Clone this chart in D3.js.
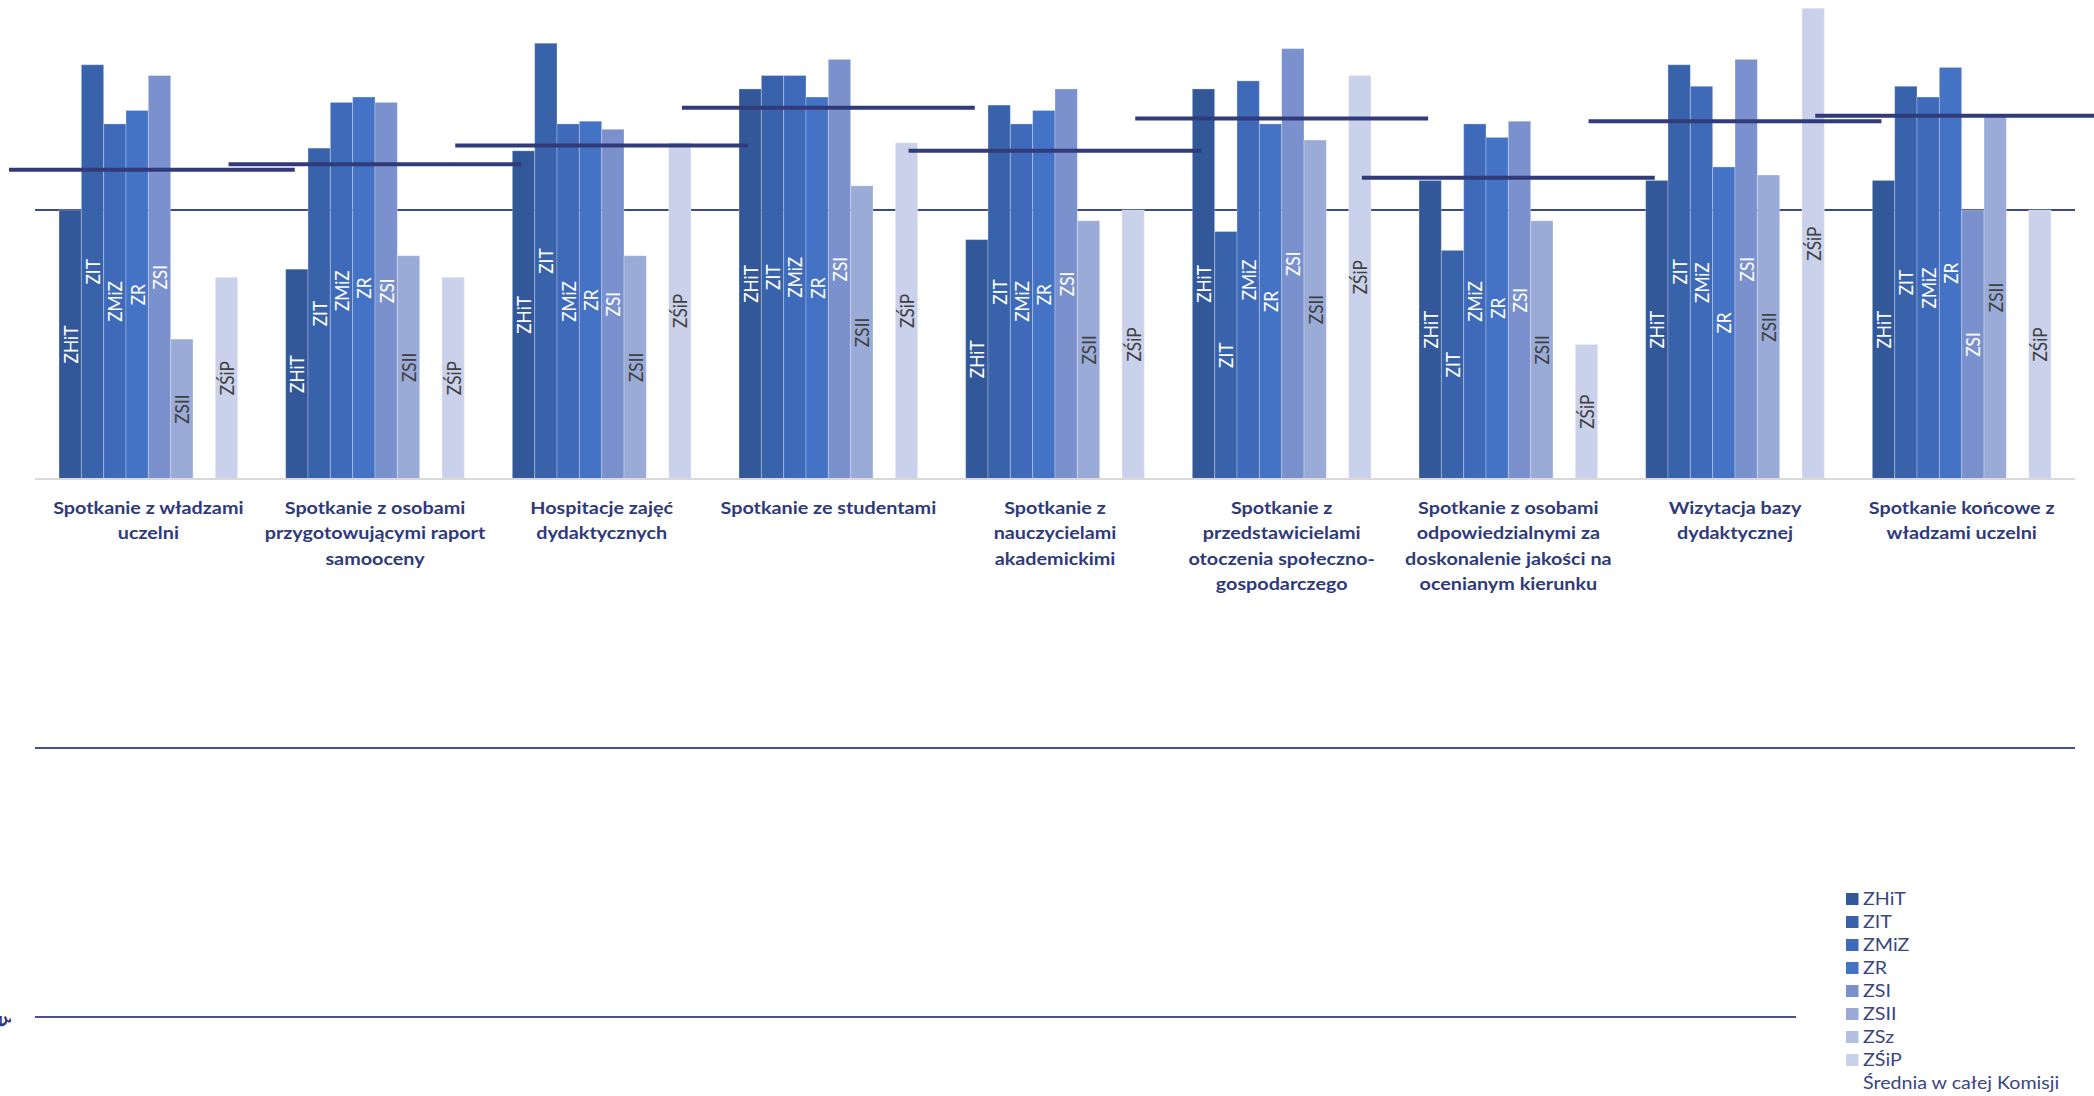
<!DOCTYPE html>
<html><head><meta charset="utf-8">
<script src="https://cdn.jsdelivr.net/npm/d3@7"></script>
<style>html,body{margin:0;padding:0;background:#fff;overflow:hidden}</style>
</head><body>
<svg id="chart" width="2094" height="1096"></svg>
<script>
// ---------- DATA ----------
const categories = [
  "Spotkanie z władzami uczelni",
  "Spotkanie z osobami przygotowującymi raport samooceny",
  "Hospitacje zajęć dydaktycznych",
  "Spotkanie ze studentami",
  "Spotkanie z nauczycielami akademickimi",
  "Spotkanie z przedstawicielami otoczenia społeczno-gospodarczego",
  "Spotkanie z osobami odpowiedzialnymi za doskonalenie jakości na ocenianym kierunku",
  "Wizytacja bazy dydaktycznej",
  "Spotkanie końcowe z władzami uczelni"
];
const categoryTickLines = [
  ["Spotkanie z władzami", "uczelni"],
  ["Spotkanie z osobami", "przygotowującymi raport", "samooceny"],
  ["Hospitacje zajęć", "dydaktycznych"],
  ["Spotkanie ze studentami"],
  ["Spotkanie z", "nauczycielami", "akademickimi"],
  ["Spotkanie z", "przedstawicielami", "otoczenia społeczno-", "gospodarczego"],
  ["Spotkanie z osobami", "odpowiedzialnymi za", "doskonalenie jakości na", "ocenianym kierunku"],
  ["Wizytacja bazy", "dydaktycznej"],
  ["Spotkanie końcowe z", "władzami uczelni"]
];
const seriesNames = ["ZHiT", "ZIT", "ZMiZ", "ZR", "ZSI", "ZSII", "ZSz", "ZŚiP"];
const ZHiT = [4.00, 3.78, 4.22, 4.45, 3.89, 4.45, 4.11, 4.11, 4.11];
const ZIT  = [4.54, 4.23, 4.62, 4.50, 4.39, 3.92, 3.85, 4.54, 4.46];
const ZMiZ = [4.32, 4.40, 4.32, 4.50, 4.32, 4.48, 4.32, 4.46, 4.42];
const ZR   = [4.37, 4.42, 4.33, 4.42, 4.37, 4.32, 4.27, 4.16, 4.53];
const ZSI  = [4.50, 4.40, 4.30, 4.56, 4.45, 4.60, 4.33, 4.56, 4.00];
const ZSII = [3.52, 3.83, 3.83, 4.09, 3.96, 4.26, 3.96, 4.13, 4.35];
const ZSz  = [null, null, null, null, null, null, null, null, null];
const ZSiP = [3.75, 3.75, 4.25, 4.25, 4.00, 4.50, 3.50, 4.75, 4.00];
const averageName = "Średnia w całej Komisji";
const averageAll = [4.15, 4.17, 4.24, 4.38, 4.22, 4.34, 4.12, 4.33, 4.35];
const yDomain = [3, 5];
const gridValues = [4];

const seriesValues = [ZHiT, ZIT, ZMiZ, ZR, ZSI, ZSII, ZSz, ZSiP];
const seriesColors = ["#325899", "#3862a9", "#3e6ab9", "#4472c4", "#7a91ce", "#9aabd7", "#b4c0e1", "#cad1ea"];
const labelColors  = ["#ffffff", "#ffffff", "#ffffff", "#ffffff", "#ffffff", "#404040", "#404040", "#404040"];

// ---------- LAYOUT ----------
const svg = d3.select("#chart");
const SX = 1.13;           // horizontal text stretch of the original
const FONT = "Lato, 'Open Sans', sans-serif";
const navy = "#2f3a7a";

const x0 = d3.scaleBand().domain(categories).range([35, 2075]).paddingInner(0.2118).paddingOuter(0.1059);
const x1 = d3.scaleBand().domain(seriesNames).range([0, x0.bandwidth()]).padding(0);
const y = d3.scaleLinear().domain(yDomain).range([479, -59]);

// gridline(s)
svg.append("g").selectAll("line").data(gridValues).join("line")
  .attr("x1", 35).attr("x2", 2075)
  .attr("y1", d => y(d)).attr("y2", d => y(d))
  .attr("stroke", "#3f4a8a").attr("stroke-width", 1.8);

// bars
const groups = svg.append("g").selectAll("g").data(categories).join("g")
  .attr("transform", d => `translate(${x0(d)},0)`);

const barData = (c, ci) => seriesNames.map((s, si) => ({s, si, v: seriesValues[si][ci]})).filter(d => d.v != null);

groups.each(function(c, ci) {
  const g = d3.select(this);
  const data = barData(c, ci);
  g.selectAll("rect").data(data).join("rect")
    .attr("x", d => x1(d.s))
    .attr("width", x1.bandwidth())
    .attr("y", d => y(d.v))
    .attr("height", d => y(yDomain[0]) - y(d.v))
    .attr("fill", d => seriesColors[d.si])
    .attr("stroke", "rgba(255,255,255,0.28)")
    .attr("stroke-width", 1);
  g.selectAll("text").data(data).join("text")
    .attr("transform", d => `translate(${x1(d.s) + x1.bandwidth() / 2},${(y(d.v) + y(yDomain[0])) / 2}) scale(${SX},1) rotate(-90)`)
    .attr("text-anchor", "middle")
    .attr("dominant-baseline", "central")
    .attr("font-family", FONT)
    .attr("font-size", 17.3)
    .attr("fill", d => labelColors[d.si])
    .text(d => d.s);
});

// category axis baseline
svg.append("line")
  .attr("x1", 35).attr("x2", 2075)
  .attr("y1", y(yDomain[0])).attr("y2", y(yDomain[0]))
  .attr("stroke", "#d9d9d9").attr("stroke-width", 2);

// average lines (Średnia w całej Komisji)
svg.append("clipPath").attr("id", "clipAvg").append("rect")
  .attr("x", 9).attr("y", 0).attr("width", 2085).attr("height", 1096);
const avgW = x0.step() * 1.292;
svg.append("g").attr("clip-path", "url(#clipAvg)")
  .selectAll("line").data(averageAll).join("line")
  .attr("x1", (d, i) => x0(categories[i]) + x0.bandwidth() / 2 - avgW / 2)
  .attr("x2", (d, i) => x0(categories[i]) + x0.bandwidth() / 2 + avgW / 2)
  .attr("y1", d => y(d)).attr("y2", d => y(d))
  .attr("stroke", "#323b79").attr("stroke-width", 4);

// category tick labels
const tl = svg.append("g").selectAll("g").data(categories).join("g")
  .attr("transform", d => `translate(${x0(d) + x0.bandwidth() / 2},0)`);
tl.each(function(c, ci) {
  d3.select(this).selectAll("text").data(categoryTickLines[ci]).join("text")
    .attr("transform", (d, i) => `translate(0,${513.5 + i * 25.5}) scale(${SX},1)`)
    .attr("text-anchor", "middle")
    .attr("font-family", FONT).attr("font-weight", 700).attr("font-size", 17.5)
    .attr("fill", navy)
    .text(d => d);
});

// decorative separator lines below the chart
const sepLines = [{y: 748, x1: 35, x2: 2075}, {y: 1017, x1: 35, x2: 1796}];
svg.append("g").selectAll("line").data(sepLines).join("line")
  .attr("x1", d => d.x1).attr("x2", d => d.x2)
  .attr("y1", d => d.y).attr("y2", d => d.y)
  .attr("stroke", "#46518f").attr("stroke-width", 2);

// clipped axis title glyph at the left edge
svg.append("text")
  .attr("transform", "translate(7,1021) rotate(-90)")
  .attr("text-anchor", "middle")
  .attr("font-family", FONT).attr("font-weight", 700).attr("font-size", 22)
  .attr("fill", navy).text("ę");

// legend
const legendItems = seriesNames.map((s, i) => ({name: s, color: seriesColors[i]})).concat([{name: averageName, color: null}]);
const lg = svg.append("g").selectAll("g").data(legendItems).join("g")
  .attr("transform", (d, i) => `translate(1846,${899 + i * 23})`);
lg.filter(d => d.color).append("rect")
  .attr("x", 0).attr("y", -6).attr("width", 12.5).attr("height", 12)
  .attr("fill", d => d.color);
lg.append("text")
  .attr("transform", `translate(17,6.2) scale(${SX},1)`)
  .attr("font-family", FONT).attr("font-size", 17.4)
  .attr("fill", "#3a4585")
  .text(d => d.name);
</script>
</body></html>
